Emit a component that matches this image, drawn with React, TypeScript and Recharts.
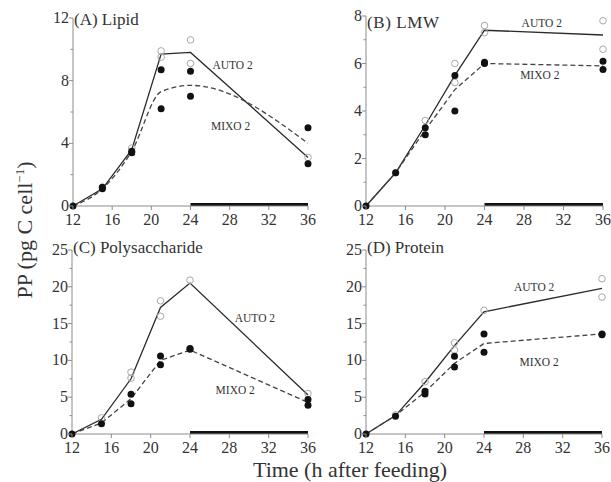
import React from 'react';
import {
  ComposedChart,
  Line,
  Scatter,
  XAxis,
  YAxis,
  ReferenceLine,
  ReferenceDot,
} from 'recharts';

// ---------------------------------------------------------------------------
// Data
// ---------------------------------------------------------------------------

/** sampling times, h after feeding */
const TIMES = [12, 15, 18, 21, 24, 36];
const X_TICKS = [12, 16, 20, 24, 28, 32, 36];
/** dark period marked by the black bar on the time axis */
const DARK_START = 24;
const DARK_END = 36;

// (A) Lipid
const LIPID_AUTO = [0, 1.1, 3.6, 9.7, 9.8, 3.1];
const LIPID_MIXO = [0, 1.1, 3.5, 7.3, 7.7, 4.0];
const LIPID_AUTO_REP = [[15, 1.2], [18, 3.7], [21, 9.9], [21, 9.5], [24, 10.6], [24, 9.1], [36, 3.1]];
const LIPID_MIXO_REP = [[12, 0], [15, 1.1], [15, 1.2], [18, 3.4], [18, 3.5], [21, 8.7], [21, 6.2], [24, 8.6], [24, 7.0], [36, 5.0], [36, 2.7]];
const LIPID_Y_TICKS = [0, 2, 4, 6, 8, 10, 12];

// (B) LMW
const LMW_AUTO = [0, 1.4, 3.4, 5.5, 7.4, 7.2];
const LMW_MIXO = [0, 1.4, 3.2, 4.9, 6.0, 5.9];
const LMW_AUTO_REP = [[15, 1.4], [18, 3.6], [21, 6.0], [21, 5.2], [24, 7.6], [24, 7.3], [36, 7.8], [36, 6.6]];
const LMW_MIXO_REP = [[12, 0], [15, 1.4], [18, 3.3], [18, 3.0], [21, 5.5], [21, 4.0], [24, 6.0], [24, 6.05], [36, 6.1], [36, 5.75]];
const LMW_Y_TICKS = [0, 1, 2, 3, 4, 5, 6, 7, 8];

// (C) Polysaccharide
const POLY_AUTO = [0, 2.0, 7.5, 17.2, 20.5, 5.3];
const POLY_MIXO = [0, 1.5, 4.8, 10.0, 11.4, 4.3];
const POLY_AUTO_REP = [[15, 2.2], [18, 8.4], [18, 7.6], [21, 18.1], [21, 16.0], [24, 20.9], [36, 5.5]];
const POLY_MIXO_REP = [[12, 0], [15, 1.4], [18, 5.4], [18, 4.1], [21, 10.6], [21, 9.4], [24, 11.6], [24, 11.5], [36, 4.7], [36, 3.9]];

// (D) Protein
const PROT_AUTO = [0, 2.5, 7.0, 12.0, 16.6, 19.8];
const PROT_MIXO = [0, 2.5, 5.7, 9.6, 12.3, 13.6];
const PROT_AUTO_REP = [[15, 2.6], [18, 7.1], [21, 12.4], [21, 11.4], [24, 16.8], [36, 21.1], [36, 18.6]];
const PROT_MIXO_REP = [[12, 0], [15, 2.4], [18, 5.8], [18, 5.45], [21, 10.55], [21, 9.1], [24, 13.6], [24, 11.1], [36, 13.6], [36, 13.5]];

const BIG_Y_TICKS = [0, 2.5, 5, 7.5, 10, 12.5, 15, 17.5, 20, 22.5, 25];

// ---------------------------------------------------------------------------
// Styling
// ---------------------------------------------------------------------------

const FONT = '"Liberation Serif", "Times New Roman", Times, serif';
const TEXT = '#333';
const AXIS = '#8c8c8c';

// ---------------------------------------------------------------------------
// Ticks and markers
// ---------------------------------------------------------------------------

function renderXTick(props: any) {
  const { x, y, payload } = props;
  return (
    <g>
      <line x1={x} y1={y} x2={x} y2={y + 4} stroke={AXIS} />
      <text
        x={x}
        y={y + 19}
        textAnchor="middle"
        fill={TEXT}
        style={{ fontFamily: FONT, fontSize: 16 }}
      >
        {payload.value}
      </text>
    </g>
  );
}

function makeYTick(major: number) {
  return (props: any) => {
    const { x, y, payload } = props;
    const isMajor = Math.abs(payload.value / major - Math.round(payload.value / major)) < 1e-6;
    return (
      <g>
        <line x1={x - (isMajor ? 4 : 2.5)} y1={y} x2={x} y2={y} stroke={AXIS} />
        {isMajor && (
          <text
            x={x - 4}
            y={y + 5}
            textAnchor="end"
            fill={TEXT}
            style={{ fontFamily: FONT, fontSize: 16 }}
          >
            {payload.value}
          </text>
        )}
      </g>
    );
  };
}

const openCircle = (p: any) => (
  <circle cx={p.cx} cy={p.cy} r={3.3} fill="none" stroke="#a8a8a8" strokeWidth={1} />
);
const filledCircle = (p: any) => <circle cx={p.cx} cy={p.cy} r={3.5} fill="#111" />;

// ---------------------------------------------------------------------------
// One panel
// ---------------------------------------------------------------------------

interface PanelProps {
  auto: number[];
  mixo: number[];
  autoRep: number[][];
  mixoRep: number[][];
  yMax: number;
  yTicks: number[];
  yMajor: number;
  width: number;
  height: number;
  margin: { top: number; right: number; bottom: number; left: number };
  autoLabel: [number, number];
  mixoLabel: [number, number];
  smoothMixo?: boolean;
}

function Panel(p: PanelProps) {
  const autoData = TIMES.map((t, i) => ({ x: t, y: p.auto[i] }));
  const mixoData = TIMES.map((t, i) => ({ x: t, y: p.mixo[i] }));
  const autoRep = p.autoRep.map(([x, y]) => ({ x, y }));
  const mixoRep = p.mixoRep.map(([x, y]) => ({ x, y }));

  const annot = {
    fill: TEXT,
    position: 'center' as const,
    style: { fontFamily: FONT, fontSize: 11.5 },
  };

  return (
    <ComposedChart width={p.width} height={p.height} margin={p.margin}>
      <XAxis
        type="number"
        dataKey="x"
        domain={[12, 36]}
        ticks={X_TICKS}
        interval={0}
        tickSize={0}
        tickMargin={0}
        tickLine={false}
        axisLine={{ stroke: AXIS }}
        tick={renderXTick}
        height={22}
      />
      <YAxis
        type="number"
        dataKey="y"
        domain={[0, p.yMax]}
        ticks={p.yTicks}
        interval={0}
        tickSize={0}
        tickMargin={0}
        tickLine={false}
        axisLine={{ stroke: AXIS }}
        tick={makeYTick(p.yMajor)}
        width={30}
      />
      <ReferenceLine
        segment={[{ x: DARK_START, y: 0 }, { x: DARK_END, y: 0 }]}
        stroke="#111"
        strokeWidth={3}
        ifOverflow="visible"
        transform="translate(0,-1.5)"
      />
      <Line
        data={autoData}
        dataKey="y"
        type="linear"
        stroke="#2a2a2a"
        strokeWidth={1.3}
        dot={false}
        isAnimationActive={false}
      />
      <Line
        data={mixoData}
        dataKey="y"
        type={p.smoothMixo ? 'monotone' : 'linear'}
        stroke="#444"
        strokeWidth={1.3}
        strokeDasharray="5 3"
        dot={false}
        isAnimationActive={false}
      />
      <Scatter data={autoRep} shape={openCircle} isAnimationActive={false} />
      <Scatter data={mixoRep} shape={filledCircle} isAnimationActive={false} />
      <ReferenceDot
        x={p.autoLabel[0]}
        y={p.autoLabel[1]}
        r={1}
        fill="none"
        stroke="none"
        label={{ value: 'AUTO 2', ...annot }}
      />
      <ReferenceDot
        x={p.mixoLabel[0]}
        y={p.mixoLabel[1]}
        r={1}
        fill="none"
        stroke="none"
        label={{ value: 'MIXO 2', ...annot }}
      />
    </ComposedChart>
  );
}

// ---------------------------------------------------------------------------
// Figure
// ---------------------------------------------------------------------------

const titleStyle: React.CSSProperties = {
  position: 'absolute',
  fontFamily: FONT,
  fontSize: 17,
  lineHeight: '17px',
  color: TEXT,
  whiteSpace: 'nowrap',
};

export default function App() {
  return (
    <div
      style={{
        position: 'absolute',
        left: 0,
        top: 0,
        width: 611,
        height: 482,
        background: '#fff',
        fontFamily: FONT,
        overflow: 'hidden',
      }}
    >
      <div style={{ position: 'absolute', left: 0, top: 0 }}>
        <Panel
          auto={LIPID_AUTO}
          mixo={LIPID_MIXO}
          autoRep={LIPID_AUTO_REP}
          mixoRep={LIPID_MIXO_REP}
          yMax={12}
          yTicks={LIPID_Y_TICKS}
          yMajor={4}
          width={320}
          height={232}
          margin={{ top: 18, right: 12, bottom: 4, left: 43 }}
          autoLabel={[28.3, 9.0]}
          mixoLabel={[28.1, 5.1]}
          smoothMixo
        />
      </div>
      <div style={{ position: 'absolute', left: 300, top: 0 }}>
        <Panel
          auto={LMW_AUTO}
          mixo={LMW_MIXO}
          autoRep={LMW_AUTO_REP}
          mixoRep={LMW_MIXO_REP}
          yMax={8}
          yTicks={LMW_Y_TICKS}
          yMajor={2}
          width={311}
          height={232}
          margin={{ top: 16, right: 8, bottom: 4, left: 36 }}
          autoLabel={[29.8, 7.7]}
          mixoLabel={[29.6, 5.5]}
        />
      </div>
      <div style={{ position: 'absolute', left: 0, top: 232 }}>
        <Panel
          auto={POLY_AUTO}
          mixo={POLY_MIXO}
          autoRep={POLY_AUTO_REP}
          mixoRep={POLY_MIXO_REP}
          yMax={25}
          yTicks={BIG_Y_TICKS}
          yMajor={5}
          width={320}
          height={250}
          margin={{ top: 18, right: 12, bottom: 26, left: 42 }}
          autoLabel={[30.6, 15.8]}
          mixoLabel={[28.6, 6.0]}
        />
      </div>
      <div style={{ position: 'absolute', left: 300, top: 232 }}>
        <Panel
          auto={PROT_AUTO}
          mixo={PROT_MIXO}
          autoRep={PROT_AUTO_REP}
          mixoRep={PROT_MIXO_REP}
          yMax={25}
          yTicks={BIG_Y_TICKS}
          yMajor={5}
          width={311}
          height={250}
          margin={{ top: 18, right: 9, bottom: 26, left: 36 }}
          autoLabel={[29.1, 20.0]}
          mixoLabel={[29.6, 9.8]}
        />
      </div>

      {/* panel titles */}
      <div style={{ ...titleStyle, left: 74, top: 11 }}>(A) Lipid</div>
      <div style={{ ...titleStyle, left: 367, top: 14, letterSpacing: 0.6 }}>(B) LMW</div>
      <div style={{ ...titleStyle, left: 73, top: 239 }}>(C) Polysaccharide</div>
      <div style={{ ...titleStyle, left: 367, top: 239 }}>(D) Protein</div>

      {/* axis titles */}
      <div
        style={{
          position: 'absolute',
          left: 25,
          top: 230,
          transform: 'translate(-50%, -50%) rotate(-90deg)',
          fontSize: 22,
          color: TEXT,
          whiteSpace: 'nowrap',
        }}
      >
        PP (pg C cell<sup style={{ fontSize: 13 }}>−1</sup>)
      </div>
      <div
        style={{
          position: 'absolute',
          left: 350,
          top: 470,
          transform: 'translate(-50%, -50%)',
          fontSize: 22,
          color: TEXT,
          whiteSpace: 'nowrap',
        }}
      >
        Time (h after feeding)
      </div>
    </div>
  );
}
